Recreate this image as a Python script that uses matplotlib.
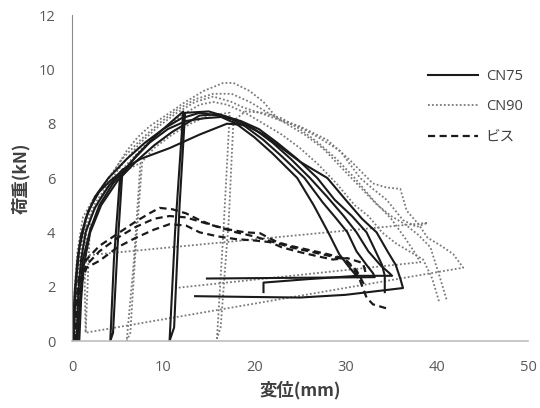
import matplotlib
matplotlib.use('Agg')
import matplotlib.pyplot as plt
from matplotlib.lines import Line2D

# ---- data (displacement mm, load kN) ----
# CN75 specimens (solid)
cn75_a_x = [0, 0.3, 0.6, 1.0, 1.8, 3.0, 4.2, 5.3, 4.6, 4.2, 4.5, 5.0, 5.5, 7.0, 9.0, 11.0, 12.2,
            11.3, 10.7, 11.2, 11.8, 12.4, 15, 17, 19, 21, 23, 25.5, 27.5, 29, 30.2, 31.2, 32.3, 33,
            33.2, 14.8]
cn75_a_y = [0, 1.8, 3.0, 3.9, 4.8, 5.5, 5.9, 6.2, 3.0, 0, 0.3, 3.5, 6.1, 6.8, 7.5, 8.1, 8.45,
            4.0, 0, 0.5, 5.0, 8.4, 8.45, 8.25, 7.9, 7.4, 6.8, 6.0, 5.1, 4.5, 4.0, 3.3, 2.8, 2.5,
            2.35, 2.3]
cn75_b_x = [0.5, 0.7, 1.0, 1.5, 2.5, 4.0, 5.5, 7.5, 10.7, 14.0, 17, 19, 21, 23, 25, 28, 30, 31.8,
            33.4, 34.6, 35.5, 36.0, 36.3, 30, 25, 20, 13.5]
cn75_b_y = [0, 1.8, 3.0, 4.0, 4.9, 5.7, 6.3, 6.7, 7.1, 7.6, 8.0, 7.95, 7.6, 7.1, 6.6, 6.0, 5.2, 4.5,
            4.0, 3.3, 2.8, 2.3, 1.95, 1.7, 1.6, 1.62, 1.65]
cn75_c_x = [0.8, 1.0, 1.3, 2.0, 3.2, 5.0, 7, 9, 11, 14, 16, 18, 20, 22, 24, 26.1, 28, 29.8, 31.2,
            32.5, 33.8, 34.8, 35.1, 31.3, 26, 21, 21]
cn75_c_y = [0, 1.5, 2.8, 4.0, 5.0, 5.9, 6.6, 7.2, 7.7, 8.3, 8.35, 8.15, 7.8, 7.3, 6.7, 6.0, 5.3, 4.6,
            4.0, 3.3, 2.8, 2.5, 2.4, 2.4, 2.28, 2.15, 1.8]
cn75_d_x = [0.2, 0.4, 0.8, 1.5, 2.5, 4, 6, 8, 10, 12, 14, 16, 18, 20, 22, 24.7, 26.5, 28.1, 29.3,
            30.2, 31.3]
cn75_d_y = [0, 2.0, 3.4, 4.5, 5.3, 6.0, 6.7, 7.3, 7.8, 8.2, 8.4, 8.3, 8.0, 7.5, 6.9, 6.0, 5.0, 4.0,
            3.2, 2.8, 2.35]
cn75_e_x = [0.6, 0.9, 1.2, 2, 3, 4.5, 6.5, 8.5, 10.5, 12.5, 14.5, 16.5, 18.5, 20.5, 22.5, 24.7,
            26.9, 28.8, 30.7, 32.3, 33.3, 34.0, 34.3, 34.3]
cn75_e_y = [0, 1.6, 3.0, 4.1, 5.0, 5.8, 6.6, 7.3, 7.8, 8.1, 8.2, 8.25, 8.1, 7.8, 7.3, 6.7, 6.0,
            5.2, 4.6, 4.0, 3.3, 2.8, 2.4, 1.8]

# CN90 specimens (dotted)
cn90_a_x = [0.1, 0.3, 0.6, 1.2, 2.2, 3.4, 4.7, 6.0, 7.2, 8.5, 10.7, 12.2, 14.4, 16.6, 17.7, 19.5,
            21, 22.5, 25, 28, 30.5, 33, 34.5, 36, 36.7, 38, 39, 40.5, 41.8, 42.9, 1.4]
cn90_a_y = [0, 2.0, 3.3, 4.55, 5.15, 5.65, 6.3, 7.0, 7.5, 7.9, 8.4, 8.75, 9.2, 9.5, 9.5, 9.2,
            8.8, 8.2, 7.9, 7.4, 6.65, 5.8, 5.65, 5.6, 4.8, 4.3, 3.8, 3.5, 3.2, 2.7, 0.3]
cn90_b_x = [0.3, 0.5, 0.9, 1.6, 2.6, 4, 5.5, 7.5, 9.5, 11.5, 13.5, 15.5, 17.5, 18.75, 21, 23, 25,
            27, 29.4, 31.6, 33, 34.5, 36.3, 37.8, 39.0, 1.5]
cn90_b_y = [0, 2.1, 3.4, 4.4, 5.1, 5.8, 6.5, 7.3, 7.9, 8.4, 8.8, 9.0, 8.8, 8.6, 8.35, 8.1, 7.87,
            7.5, 7.0, 6.0, 5.6, 5.2, 4.45, 4.2, 4.35, 3.15]
cn90_c_x = [0.5, 0.8, 1.3, 1.6, 1.4, 1.5, 2.0, 3.0, 4.5, 6.0, 7.5, 6.8, 6.0, 6.4, 7.0, 7.7, 9, 11,
            13, 15, 17.3, 16.6, 15.9, 16.3, 17.2, 17.7, 19, 21, 23, 25, 27, 29, 31, 33, 35, 36.5,
            37.5, 38.2, 11.3]
cn90_c_y = [0, 2.0, 3.5, 4.3, 2.0, 0.3, 4.5, 5.2, 5.9, 6.3, 6.55, 3.0, 0, 0.3, 3.5, 6.6, 7.1, 7.6,
            8.0, 8.3, 8.4, 4.0, 0.1, 0.5, 4.5, 8.1, 8.45, 8.4, 8.2, 7.8, 7.3, 6.7, 6.0, 5.2, 4.5,
            3.8, 3.3, 2.9, 1.95]
cn90_d_x = [0.2, 0.4, 0.8, 1.5, 2.5, 4, 5.5, 7.5, 9.5, 11.5, 13.5, 15.5, 17.5, 19.5, 21.5, 23.5,
            25.5, 27.5, 29.5, 31.5, 33.5, 35, 36.5, 38, 39.3, 40.2, 41.1]
cn90_d_y = [0, 2.0, 3.5, 4.5, 5.3, 6.0, 6.7, 7.4, 8.0, 8.5, 8.9, 9.1, 9.1, 8.8, 8.4, 8.0, 7.6,
            7.1, 6.4, 5.7, 5.0, 4.6, 4.3, 3.9, 3.45, 2.5, 1.5]
cn90_e_x = [0.4, 0.6, 1.0, 1.8, 3, 4.5, 6, 8, 10, 12, 14, 15.5, 17, 19, 21, 23, 25, 27, 29, 31,
            32.5, 34, 35.5, 37, 38.5, 39.5, 40.3]
cn90_e_y = [0, 2.0, 3.4, 4.4, 5.2, 5.9, 6.5, 7.2, 7.8, 8.3, 8.7, 8.8, 8.7, 8.4, 8.0, 7.6, 7.1,
            6.5, 5.8, 5.0, 4.6, 4.0, 3.6, 3.3, 3.0, 2.3, 1.4]

# screw specimens (dashed)
bis_a_x = [0.3, 0.5, 0.8, 1.6, 3, 5, 7, 8.5, 9.6, 11, 12.5, 14, 15.5, 17.3, 19, 20.6, 22.5, 24, 26,
           28, 29.7, 30.8, 31.5, 32.3, 33, 34.5]
bis_a_y = [0, 1.5, 2.5, 3.0, 3.5, 3.95, 4.4, 4.7, 4.9, 4.85, 4.7, 4.45, 4.25, 4.1, 4.0, 3.97,
           3.64, 3.5, 3.35, 3.2, 3.05, 2.7, 2.3, 1.6, 1.35, 1.2]
bis_b_x = [0.5, 0.7, 1.0, 1.6, 3, 5, 7, 9, 10.7, 12.5, 14, 16, 18, 20, 22, 24, 26, 28, 30, 31.2,
           32]
bis_b_y = [0, 1.6, 2.4, 2.8, 3.3, 3.8, 4.2, 4.5, 4.6, 4.55, 4.4, 4.2, 4.0, 3.85, 3.65, 3.45, 3.3,
           3.15, 3.0, 2.6, 2.1]
bis_c_x = [0.6, 0.8, 1.1, 1.6, 3, 5, 7, 9, 10.7, 12.5, 14, 16, 18, 20, 21.7, 23, 25, 27.2, 28.6,
           30.2, 31.9, 32.3]
bis_c_y = [0, 1.5, 2.2, 2.7, 2.95, 3.45, 3.8, 4.1, 4.3, 4.25, 4.0, 3.85, 3.75, 3.7, 3.64, 3.45,
           3.27, 3.1, 3.0, 3.05, 2.87, 2.4]

cn75 = [(cn75_a_x, cn75_a_y), (cn75_b_x, cn75_b_y), (cn75_c_x, cn75_c_y),
        (cn75_d_x, cn75_d_y), (cn75_e_x, cn75_e_y)]
cn90 = [(cn90_a_x, cn90_a_y), (cn90_b_x, cn90_b_y), (cn90_c_x, cn90_c_y),
        (cn90_d_x, cn90_d_y), (cn90_e_x, cn90_e_y)]
bis = [(bis_a_x, bis_a_y), (bis_b_x, bis_b_y), (bis_c_x, bis_c_y)]

series_labels = ['CN75', 'CN90', 'ビス']
x_ticks = [0, 10, 20, 30, 40, 50]
y_ticks = [0, 2, 4, 6, 8, 10, 12]

jp_font = ['Noto Sans CJK JP', 'DejaVu Sans']
plt.rcParams['font.family'] = jp_font

fig = plt.figure(figsize=(5.4, 4.08), dpi=100)
ax = fig.add_axes([0.1333, 0.1642, 0.8444, 0.799])

solid = dict(color='#1a1a1a', lw=1.5, ls='-')
dotted = dict(color='#7a7a7a', lw=1.3, ls=(0, (1, 1.2)))
dashed = dict(color='#1a1a1a', lw=1.6, ls=(0, (3.2, 2)))

for x, y in cn90:
    ax.plot(x, y, **dotted)
for x, y in cn75:
    ax.plot(x, y, **solid)
for x, y in bis:
    ax.plot(x, y, **dashed)

ax.set_xlim(0, 50)
ax.set_ylim(0, 12)
ax.set_xticks(x_ticks)
ax.set_yticks(y_ticks)
ax.tick_params(length=0, labelsize=10.5, labelcolor='#595959')
ax.tick_params(axis='y', pad=12)
ax.tick_params(axis='x', pad=14)
for lab in ax.get_xticklabels() + ax.get_yticklabels():
    lab.set_family(['Open Sans', 'DejaVu Sans'])

for s in ['top', 'right']:
    ax.spines[s].set_visible(False)
ax.spines['left'].set_color('#8c8c8c')
ax.spines['bottom'].set_color('#bfbfbf')
ax.spines['bottom'].set_linewidth(1.2)

ax.set_xlabel('変位(mm)', fontsize=12.5, fontweight='bold', color='#404040', labelpad=4)
ax.set_ylabel('荷重(kN)', fontsize=12.5, fontweight='bold', color='#404040', labelpad=6)

handles = [Line2D([], [], **solid), Line2D([], [], **dotted), Line2D([], [], **dashed)]
leg = ax.legend(handles, series_labels, loc='upper left', bbox_to_anchor=(0.781, 0.834),
                frameon=False, borderaxespad=0, borderpad=0, handlelength=3.4,
                handletextpad=0.55, labelspacing=1.05, fontsize=10.5)
for t in leg.get_texts():
    t.set_color('#404040')
    t.set_family(['Open Sans', 'Noto Sans CJK JP'])

fig.savefig('out.png', dpi=100)
